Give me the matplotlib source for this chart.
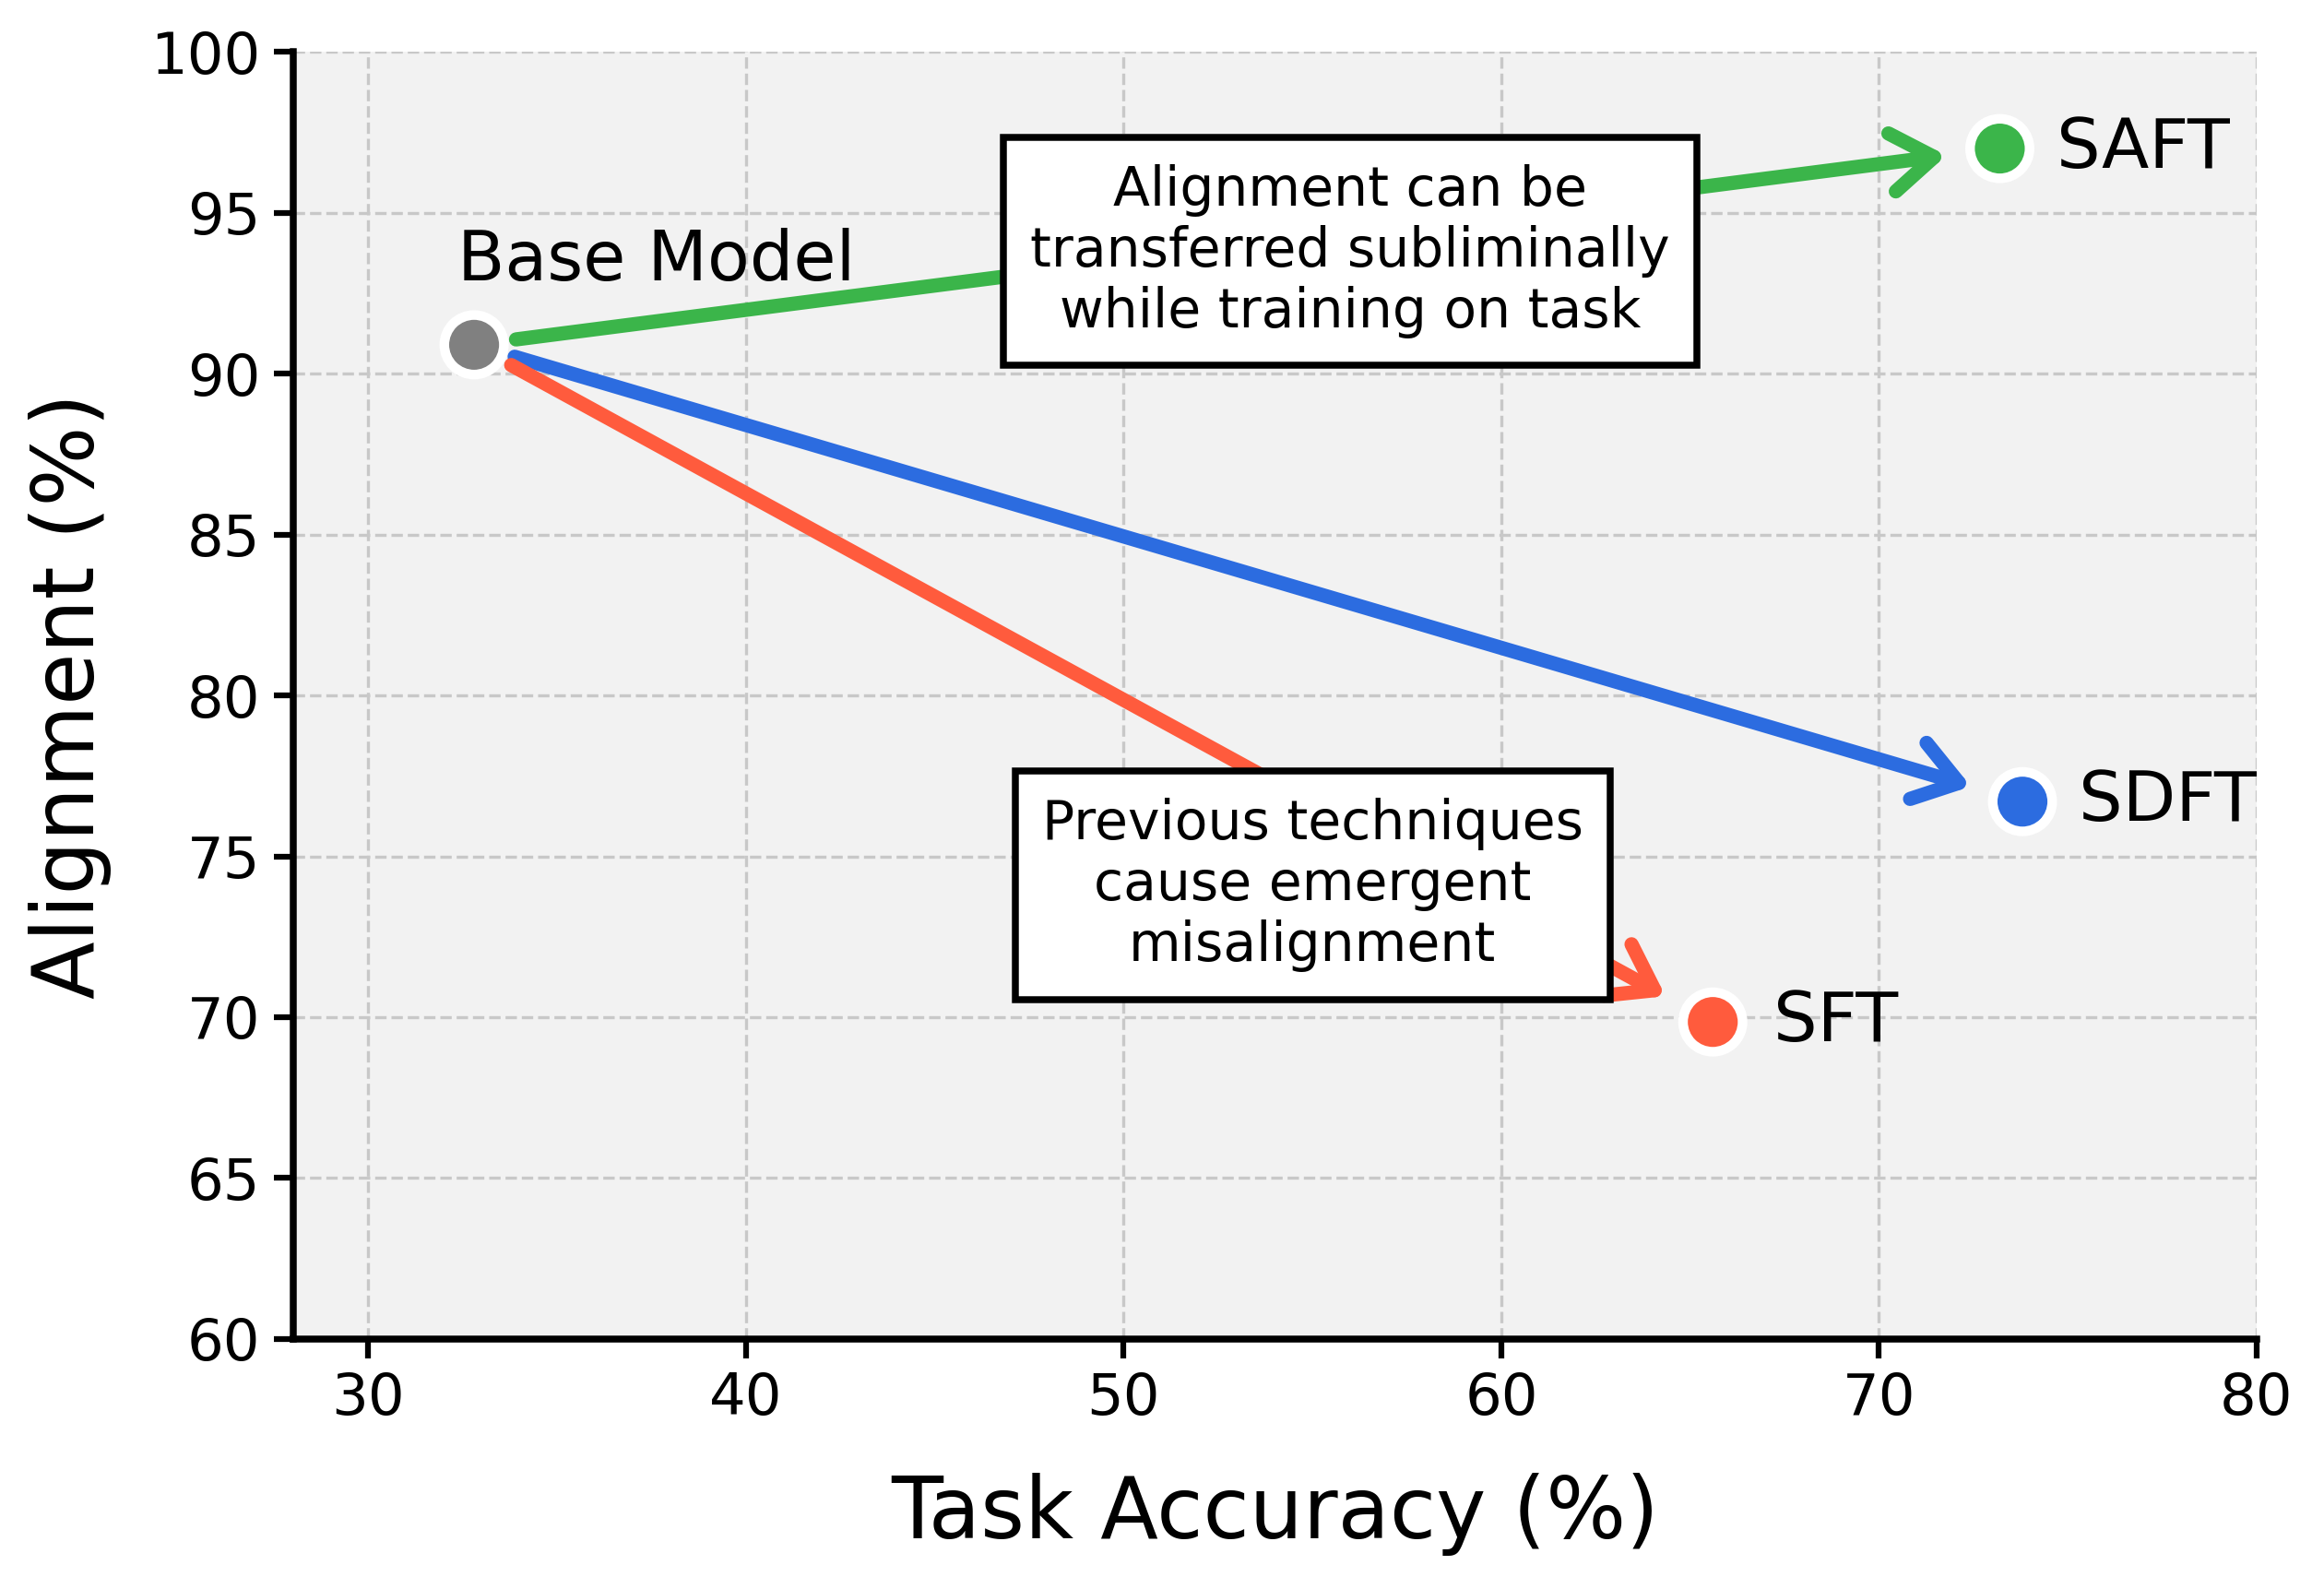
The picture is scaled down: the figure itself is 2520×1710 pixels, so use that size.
import matplotlib
matplotlib.use("Agg")
import matplotlib.pyplot as plt

# Data
names = ["Base Model", "SAFT", "SDFT", "SFT"]
task_acc = [32.8, 73.2, 73.8, 65.6]
alignment = [90.9, 97.0, 76.7, 69.85]
colors = ["#808080", "#3bb54a", "#2c6ce0", "#ff5b3d"]
xticks = [30, 40, 50, 60, 70, 80]
yticks = [60, 65, 70, 75, 80, 85, 90, 95, 100]

fig = plt.figure(figsize=(8.4, 5.7), dpi=300)
ax = fig.add_axes([0.126, 0.151, 0.845, 0.816])
ax.set_facecolor("#f2f2f2")
ax.set_xlim(28, 80)
ax.set_ylim(60, 100)
ax.set_xticks(xticks)
ax.set_yticks(yticks)
ax.grid(True, linestyle="--", color="#c8c8c8", linewidth=0.8)
ax.set_axisbelow(True)
for s in ["top", "right"]:
    ax.spines[s].set_visible(False)
for s in ["left", "bottom"]:
    ax.spines[s].set_linewidth(1.8)
ax.tick_params(axis="both", labelsize=15, width=1.5, length=5)
ax.set_xlabel("Task Accuracy (%)", fontsize=22, labelpad=12)
ax.set_ylabel("Alignment (%)", fontsize=22, labelpad=10)

# arrows from base
bx, by = task_acc[0], alignment[0]
for i in range(1, 4):
    ax.annotate("", xy=(task_acc[i], alignment[i]), xytext=(bx, by),
                arrowprops=dict(arrowstyle="->,head_length=0.55,head_width=0.38",
                                mutation_scale=20, color=colors[i], lw=3.7,
                                shrinkA=11, shrinkB=14, capstyle="round",
                                joinstyle="round"),
                zorder=2)

ax.scatter(task_acc, alignment, s=240, c=colors, edgecolors="white",
           linewidths=2.5, zorder=4)

ax.text(32.35, 93.5, names[0], fontsize=18, ha="left", va="center", zorder=5)
offsets = [None, 1.5, 1.5, 1.6]
for i in range(1, 4):
    ax.text(task_acc[i] + offsets[i], alignment[i], names[i], fontsize=18,
            ha="left", va="center", zorder=5)

box = dict(boxstyle="square,pad=0.5", facecolor="white", edgecolor="black", linewidth=1.8)
ax.text(56.0, 93.8, "Alignment can be\ntransferred subliminally\nwhile training on task",
        fontsize=14, ha="center", va="center", bbox=box, zorder=6)
ax.text(55.0, 74.1, "Previous techniques\ncause emergent\nmisalignment",
        fontsize=14, ha="center", va="center", bbox=box, zorder=6)

fig.savefig("out.png", dpi=300)
